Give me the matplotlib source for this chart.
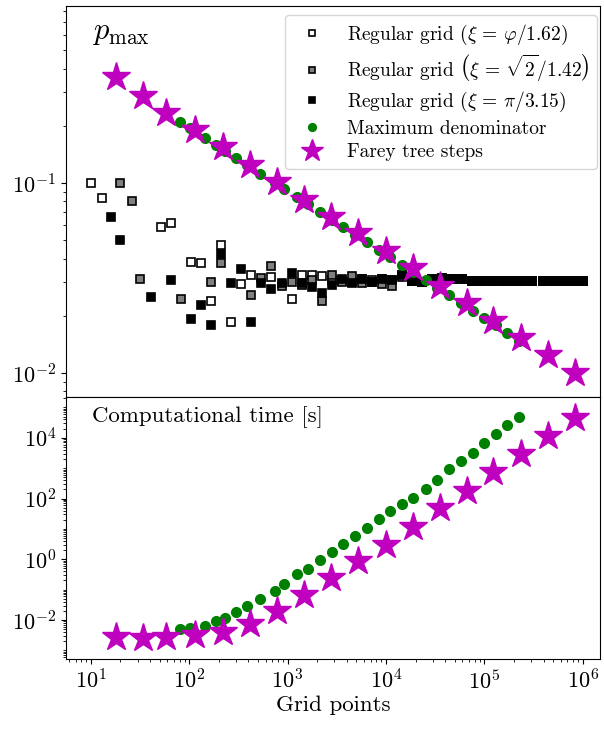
import matplotlib
matplotlib.use("Agg")
import matplotlib.pyplot as plt
import matplotlib.ticker as ticker
import numpy as np

plt.rcParams["font.family"] = "cmr10"
plt.rcParams["mathtext.fontset"] = "cm"
plt.rcParams["axes.formatter.use_mathtext"] = True

# regular grid sizes (shared by the three square series)
grid_n = [10, 13, 16, 20, 26, 32, 41, 52, 66, 83, 105, 133, 168, 212, 268,
          339, 429, 543, 686, 868, 1098, 1389, 1757, 2222, 2810, 3555, 4496,
          5687, 7193, 9099, 11510, 14560, 18410, 23290, 29460, 37260, 47130,
          59610, 75400, 95370, 120600, 152600, 193000, 244100, 308800,
          390600, 494000, 624900, 790600, 1000000]

# xi = phi/1.62 (open squares)
phi_k = [0, 1, 7, 8, 10, 11, 12, 13, 14, 15, 16, 18, 20, 21, 22, 23, 24,
         25, 26, 27, 28, 29, 30, 31, 32, 33, 34, 35, 36, 37, 38, 39, 40, 41,
         42, 43, 44, 45, 46, 47, 48, 49]
phi_p = [0.100, 0.0837, 0.0589, 0.0618, 0.0385, 0.0381, 0.0240, 0.0472,
         0.0186, 0.0295, 0.0327, 0.0321, 0.0246, 0.0330, 0.0327, 0.0324,
         0.0310, 0.0305, 0.0303, 0.0311, 0.0308, 0.0311, 0.0308, 0.0328,
         0.0306, 0.0303, 0.0311, 0.0315, 0.0311, 0.0311, 0.0306, 0.0305,
         0.0306, 0.0305, 0.0306, 0.0305, 0.0306, 0.0305, 0.0306, 0.0305,
         0.0306, 0.0305]

# xi = sqrt(2)/1.42 (grey squares)
sq2_k = [3, 4, 5, 9, 12, 13, 16, 17, 18, 19, 20, 21, 22, 23, 24, 25, 26,
         27, 28, 29, 30, 31, 32, 33, 34, 35, 36, 37, 38, 39, 40, 41, 42, 43,
         44, 45, 46, 47, 48, 49]
sq2_p = [0.100, 0.0804, 0.0311, 0.0244, 0.0300, 0.0378, 0.0257, 0.0318,
         0.0366, 0.0287, 0.0301, 0.0291, 0.0308, 0.0239, 0.0327, 0.0300,
         0.0324, 0.0297, 0.0303, 0.0294, 0.0287, 0.0320, 0.0306, 0.0303,
         0.0311, 0.0315, 0.0311, 0.0311, 0.0306, 0.0305, 0.0306, 0.0305,
         0.0306, 0.0305, 0.0306, 0.0305, 0.0306, 0.0305, 0.0306, 0.0305]

# xi = pi/3.15 (black squares)
pi_k = [2, 3, 6, 8, 10, 11, 12, 13, 14, 15, 16, 17, 18, 19, 20, 21, 22, 23,
        24, 25, 26, 27, 28, 29, 30, 31, 32, 33, 34, 35, 36, 37, 38, 39, 40,
        41, 42, 43, 44, 45, 46, 47, 48, 49]
pi_p = [0.0665, 0.0501, 0.0250, 0.0308, 0.0192, 0.0227, 0.0179, 0.0423,
        0.0298, 0.0354, 0.0186, 0.0297, 0.0278, 0.0298, 0.0337, 0.0297,
        0.0284, 0.0265, 0.0291, 0.0311, 0.0297, 0.0311, 0.0303, 0.0311,
        0.0308, 0.0328, 0.0306, 0.0303, 0.0311, 0.0315, 0.0311, 0.0311,
        0.0306, 0.0305, 0.0306, 0.0305, 0.0306, 0.0305, 0.0306, 0.0305,
        0.0306, 0.0305, 0.0306, 0.0305]

# maximum denominator
maxden_n = [81, 103, 145, 186, 233, 299, 390, 525, 743, 931, 1254, 1622, 2148,
            2825, 3684, 4842, 6427, 8453, 11100, 14590, 19040, 25460, 33210,
            43650, 57410, 76050, 100000, 131500, 171500, 227300]
maxden_p = [0.210, 0.194, 0.173, 0.159, 0.148, 0.136, 0.124, 0.112, 0.100,
            0.0930, 0.0841, 0.0772, 0.0703, 0.0641, 0.0587, 0.0535, 0.0487,
            0.0445, 0.0406, 0.0371, 0.0340, 0.0308, 0.0281, 0.0257, 0.0234,
            0.0213, 0.0195, 0.0178, 0.0163, 0.0148]
maxden_t = [0.00492, 0.00558, 0.00634, 0.0095, 0.0119, 0.0184, 0.0297, 0.0492,
            0.0904, 0.158, 0.337, 0.480, 0.927, 1.75, 3.20, 6.03, 11.1, 20.8,
            38.2, 66.7, 105, 203, 402, 904, 1660, 3050, 6500, 12900, 26200,
            48000]

# Farey tree steps
farey_n = [18, 34, 58, 115, 219, 416, 787, 1483, 2750, 5250, 9950, 18700,
           35500, 66200, 123000, 236000, 447000, 834000]
farey_p = [0.362, 0.288, 0.234, 0.190, 0.154, 0.124, 0.101, 0.0814, 0.0665,
           0.0544, 0.0440, 0.0356, 0.0287, 0.0233, 0.0188, 0.0153, 0.0124,
           0.0100]
farey_t = [0.00268, 0.00249, 0.00268, 0.0032, 0.0041, 0.0074, 0.0203, 0.0667,
           0.237, 0.88, 2.97, 11.9, 48, 179, 720, 2900, 11600, 44500]

fig = plt.figure(figsize=(6.04, 7.36), dpi=100)
ax1 = fig.add_axes([0.1093, 0.4606, 0.8841, 0.5312])
ax2 = fig.add_axes([0.1093, 0.1046, 0.8841, 0.3560], sharex=ax1)

sq = dict(linestyle="none", marker="s", markersize=5.4,
          markeredgecolor="k", markeredgewidth=1.2)
ax1.plot([grid_n[k] for k in phi_k], phi_p, markerfacecolor="white",
         label=r"Regular grid ($\xi\,=\,\varphi/1.62$)", **sq)
ax1.plot([grid_n[k] for k in sq2_k], sq2_p, markerfacecolor="#808080",
         label=r"Regular grid $\left(\xi\,=\,\sqrt{2}/1.42\right)$", **sq)
ax1.plot([grid_n[k] for k in pi_k], pi_p, markerfacecolor="k",
         label=r"Regular grid ($\xi\,=\,\pi/3.15$)", **sq)
ax1.plot(maxden_n, maxden_p, "o", color="green", markersize=7,
         label="Maximum denominator")
ax1.plot(farey_n, farey_p, "*", color="m", markersize=21,
         label="Farey tree steps")

ax2.plot(maxden_n, maxden_t, "o", color="green", markersize=7)
ax2.plot(farey_n, farey_t, "*", color="m", markersize=21)

for ax in (ax1, ax2):
    ax.set_xscale("log")
    ax.set_yscale("log")
    ax.tick_params(labelsize=16)

ax1.set_xlim(5.6, 1.5e6)
ax1.set_ylim(0.00748, 0.854)
ax2.set_ylim(5.2e-4, 2.2e5)

ax1.tick_params(axis="x", which="both", bottom=False, labelbottom=False)
ax2.xaxis.set_major_locator(ticker.LogLocator(base=10, numticks=20))
ax2.xaxis.set_minor_locator(ticker.LogLocator(base=10, subs=np.arange(2, 10),
                                              numticks=20))
ax2.xaxis.set_minor_formatter(ticker.NullFormatter())
ax2.yaxis.set_major_locator(ticker.FixedLocator([1e-2, 1e0, 1e2, 1e4]))
ax2.yaxis.set_minor_locator(ticker.LogLocator(base=10, subs=np.arange(1, 10),
                                              numticks=30))
ax2.yaxis.set_minor_formatter(ticker.NullFormatter())

ax1.text(0.048, 0.965, r"$p_{\max}$", transform=ax1.transAxes,
         fontsize=22, va="top", ha="left")
ax2.text(0.048, 0.965, "Computational time [s]", transform=ax2.transAxes,
         fontsize=16.5, va="top", ha="left")
ax2.set_xlabel("Grid points", fontsize=16.5, labelpad=2)

ax1.legend(loc="upper right", bbox_to_anchor=(0.995, 0.977), borderaxespad=0,
           fontsize=14, markerscale=0.8, labelspacing=0.3)

fig.savefig("out.png", dpi=100)
